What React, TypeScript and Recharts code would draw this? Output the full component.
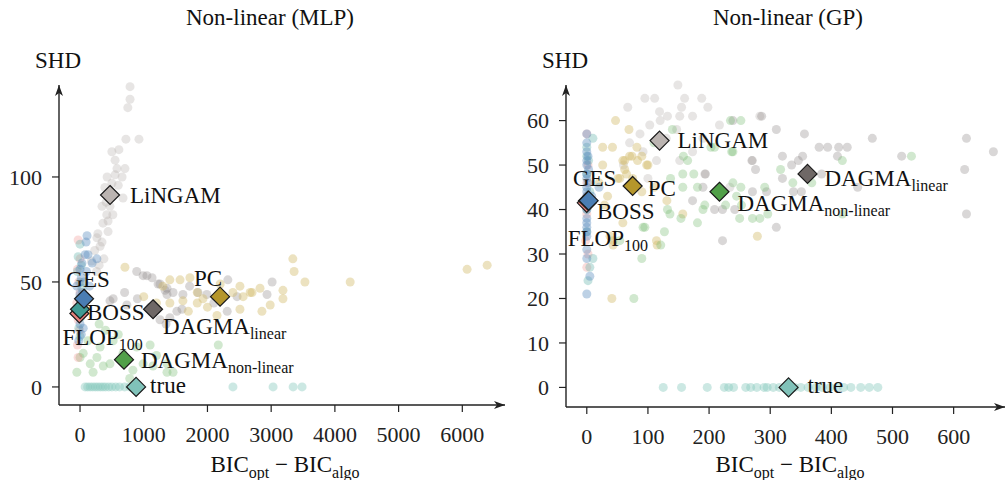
import React from "react";
import { ScatterChart, Scatter, XAxis, YAxis } from "recharts";

type Pt = [number, number];

const FONT = "'Liberation Serif', 'Times New Roman', serif";
const INK = "#222";

// ---------- Non-linear (MLP) ----------
const mlpXTicks = [0, 1000, 2000, 3000, 4000, 5000, 6000];
const mlpYTicks = [0, 50, 100];

const mlpLingam: Pt[] = [
  [785, 143], [785, 137], [750, 133], [720, 118], [925, 118], [500, 112], [610, 113],
  [550, 108], [705, 104], [425, 100], [550, 101], [660, 100], [500, 97], [675, 90],
  [345, 86], [470, 86], [420, 82], [515, 82], [440, 79], [440, 74], [280, 73],
  [265, 71], [345, 69], [315, 67], [375, 61], [390, 95], [600, 96], [455, 92],
  [360, 78], [230, 65], [180, 60], [410, 88], [580, 104], [300, 58], [260, 55],
];
const mlpDagmaLin: Pt[] = [
  [890, 55], [990, 53], [700, 45], [470, 41], [735, 39], [1130, 52], [1225, 49],
  [1335, 46], [1365, 44], [1460, 45], [1615, 44], [1850, 45], [1990, 44], [2320, 51],
  [2465, 43], [2310, 36], [2935, 44], [3015, 50], [1255, 32], [1410, 33], [1520, 36],
  [1050, 53], [1255, 49], [1365, 47], [1350, 30], [1600, 37], [1720, 48], [2100, 40],
  [900, 42], [1100, 38], [520, 42],
];
const mlpPc: Pt[] = [
  [705, 57], [1410, 51], [1570, 51], [1725, 52], [1615, 41], [1410, 40], [1840, 40],
  [1930, 42], [2400, 45], [2510, 48], [2670, 45], [2825, 47], [2855, 36], [2985, 39],
  [3185, 46], [3185, 42], [3340, 61], [3360, 55], [3530, 50], [4240, 50], [2150, 34],
  [2510, 37], [2700, 45], [2560, 43], [6075, 56], [6390, 58], [1840, 45], [1000, 43],
  [1200, 40], [1300, 48], [2200, 49], [2000, 38], [1700, 36],
];
const mlpDagmaNon: Pt[] = [
  [125, 22], [315, 19], [50, 16], [265, 14], [160, 11], [365, 10], [205, 7], [520, 22],
  [675, 16], [890, 19], [990, 11], [1100, 20], [1145, 10], [1365, 11], [1365, 7],
  [1460, 7], [830, 8], [2170, 20], [-50, 7], [0, 14], [470, 11], [600, 25], [400, 27],
  [780, 4], [1200, 15], [300, 30],
];
const mlpTrue: Pt[] = [
  [80, 0], [120, 0], [160, 0], [200, 0], [240, 0], [280, 0], [320, 0], [360, 0],
  [400, 0], [450, 0], [500, 0], [560, 0], [620, 0], [700, 0], [780, 0], [860, 0],
  [2400, 0], [3030, 0], [3345, 0], [3485, 0],
];
const mlpGes: Pt[] = [
  [110, 72], [95, 69], [125, 63], [265, 61], [30, 59], [80, 63], [190, 59], [0, 56],
  [-50, 48], [20, 52], [40, 45], [10, 40], [30, 35], [0, 30], [20, 25], [-20, 22],
  [60, 50], [100, 55], [150, 48], [0, 44], [-30, 38], [50, 28],
];
const mlpBoss: Pt[] = [
  [0, 68], [-30, 62], [20, 58], [0, 50], [30, 47], [-10, 42], [10, 33], [-20, 28],
  [0, 24], [40, 40], [-40, 55],
];
const mlpFlop: Pt[] = [
  [-30, 70], [0, 61], [-40, 56], [-20, 50], [0, 45], [-50, 40], [-30, 32], [-10, 27],
  [-40, 20], [-30, 14], [10, 36],
];
const mlpMeans = [
  { id: "flop", x: -10, y: 35 },
  { id: "boss", x: 0, y: 37 },
  { id: "ges", x: 63, y: 42 },
  { id: "lingam", x: 471, y: 91.4 },
  { id: "dagmaLin", x: 1146, y: 37 },
  { id: "pc", x: 2198, y: 43 },
  { id: "dagmaNon", x: 690, y: 13 },
  { id: "true", x: 880, y: 0 },
];

// ---------- Non-linear (GP) ----------
const gpXTicks = [0, 100, 200, 300, 400, 500, 600];
const gpYTicks = [0, 10, 20, 30, 40, 50, 60];

const gpLingam: Pt[] = [
  [149, 68], [111, 65], [95, 65], [160, 65], [188, 65], [67, 63], [155, 63], [119, 62],
  [198, 63], [132, 61], [152, 61], [173, 61], [217, 59], [147, 58], [103, 59], [87, 57],
  [190, 56], [70, 55], [92, 53], [173, 53], [114, 51], [152, 51], [193, 48], [271, 51],
  [283, 61], [234, 45], [130, 56], [100, 47], [120, 60], [60, 50],
];
const gpDagmaLin: Pt[] = [
  [286, 61], [310, 58], [356, 57], [467, 56], [621, 56], [665, 53], [394, 54], [412, 54],
  [426, 54], [515, 52], [410, 52], [335, 50], [346, 51], [353, 52], [384, 48], [320, 47],
  [338, 44], [351, 44], [443, 45], [618, 49], [621, 39], [310, 36], [294, 44], [239, 60],
  [270, 51], [276, 49], [194, 48], [190, 45], [209, 40], [222, 40], [242, 40], [271, 44],
  [222, 33], [173, 42], [380, 54], [320, 52],
];
const gpPc: Pt[] = [
  [47, 60], [69, 58], [42, 54], [70, 52], [62, 51], [83, 51], [100, 50], [62, 49],
  [51, 47], [75, 47], [26, 54], [82, 54], [74, 52], [90, 52], [59, 51], [98, 50],
  [26, 50], [54, 47], [65, 48], [34, 43], [29, 41], [59, 37], [38, 34], [43, 33],
  [114, 33], [131, 42], [157, 39], [279, 34], [43, 32], [115, 32], [41, 20], [90, 44],
  [110, 45], [20, 46],
];
const gpDagmaNon: Pt[] = [
  [252, 60], [235, 60], [239, 53], [203, 54], [158, 52], [165, 51], [157, 48], [175, 48],
  [137, 47], [157, 45], [181, 45], [190, 40], [132, 40], [154, 38], [227, 41], [250, 38],
  [271, 38], [95, 36], [121, 32], [252, 45], [209, 54], [237, 53], [239, 46], [245, 43],
  [193, 41], [136, 39], [181, 37], [92, 36], [127, 35], [90, 29], [54, 33], [77, 20],
  [317, 49], [418, 51], [531, 52], [337, 46], [368, 46], [418, 39], [296, 39], [291, 45],
  [253, 41], [283, 38], [110, 55], [140, 58],
];
const gpTrue: Pt[] = [
  [125, 0], [155, 0], [197, 0], [225, 0], [232, 0], [240, 0], [260, 0], [268, 0],
  [278, 0], [290, 0], [295, 0], [305, 0], [315, 0], [325, 0], [340, 0], [350, 0],
  [362, 0], [375, 0], [385, 0], [398, 0], [410, 0], [420, 0], [432, 0], [448, 0],
  [462, 0], [476, 0],
];
const gpGes: Pt[] = [
  [0, 57], [0, 55], [0, 53], [2, 52], [0, 51], [0, 50], [3, 49], [0, 48], [0, 47],
  [2, 46], [0, 45], [0, 44], [0, 43], [0, 42], [0, 41], [0, 40], [0, 38], [0, 37],
  [0, 36], [0, 35], [0, 34], [0, 31], [0, 29], [5, 25], [0, 21], [20, 45], [8, 43],
];
const gpBoss: Pt[] = [
  [10, 56], [0, 54], [3, 51], [0, 48], [5, 44], [0, 40], [10, 29], [5, 27], [2, 24],
  [0, 35], [0, 52],
];
const gpFlop: Pt[] = [
  [0, 57], [2, 50], [0, 46], [0, 39], [-2, 33], [0, 27], [2, 30], [0, 43],
];
const gpMeans = [
  { id: "flop", x: 0, y: 41.5 },
  { id: "boss", x: 2, y: 42 },
  { id: "ges", x: 3, y: 42 },
  { id: "lingam", x: 119, y: 55.5 },
  { id: "pc", x: 75, y: 45.3 },
  { id: "dagmaNon", x: 217, y: 44 },
  { id: "dagmaLin", x: 361, y: 48 },
  { id: "true", x: 330, y: 0 },
];

// ---------- styles ----------
const COLORS: Record<string, { mean: string; cloud: string; op: number }> = {
  flop: { mean: "#e9807b", cloud: "#f08a88", op: 0.3 },
  boss: { mean: "#3f9a93", cloud: "#5bb0a6", op: 0.35 },
  ges: { mean: "#4a7db3", cloud: "#5a8dbf", op: 0.4 },
  lingam: { mean: "#bbb4b1", cloud: "#b5adaa", op: 0.32 },
  dagmaLin: { mean: "#6f6866", cloud: "#8a8482", op: 0.32 },
  pc: { mean: "#b5962b", cloud: "#d1bb6a", op: 0.42 },
  dagmaNon: { mean: "#51a049", cloud: "#74b86c", op: 0.33 },
  true: { mean: "#80c2b9", cloud: "#86c7bd", op: 0.42 },
};

const LABELS: Record<string, [string, string?]> = {
  flop: ["FLOP", "100"],
  boss: ["BOSS"],
  ges: ["GES"],
  lingam: ["LiNGAM"],
  dagmaLin: ["DAGMA", "linear"],
  pc: ["PC"],
  dagmaNon: ["DAGMA", "non-linear"],
  true: ["true"],
};

type Place = { dx: number; dy: number; anchor: "start" | "middle" | "end" };
const mlpPlace: Record<string, Place> = {
  lingam: { dx: 20, dy: 8, anchor: "start" },
  ges: { dx: 4, dy: -12, anchor: "middle" },
  boss: { dx: 7, dy: 11, anchor: "start" },
  flop: { dx: -17, dy: 32, anchor: "start" },
  dagmaLin: { dx: 10, dy: 25, anchor: "start" },
  pc: { dx: -12, dy: -11, anchor: "middle" },
  dagmaNon: { dx: 17, dy: 8, anchor: "start" },
  true: { dx: 14, dy: 6, anchor: "start" },
};
const gpPlace: Record<string, Place> = {
  lingam: { dx: 18, dy: 7, anchor: "start" },
  ges: { dx: 6, dy: -15, anchor: "middle" },
  boss: { dx: 9, dy: 18, anchor: "start" },
  flop: { dx: -19, dy: 43, anchor: "start" },
  pc: { dx: 15, dy: 10, anchor: "start" },
  dagmaNon: { dx: 18, dy: 19, anchor: "start" },
  dagmaLin: { dx: 17, dy: 12, anchor: "start" },
  true: { dx: 19, dy: 6, anchor: "start" },
};

const toXY = (pts: Pt[]) => pts.map(([x, y]) => ({ x, y }));

function Dot(color: string, op: number) {
  return (p: any) => <circle cx={p.cx} cy={p.cy} r={4.5} fill={color} fillOpacity={op} />;
}

function Mean(place: Record<string, Place>) {
  return (p: any) => {
    const id = p.payload.id;
    const c = COLORS[id];
    const pl = place[id];
    const [main, sub] = LABELS[id];
    const r = 9.5;
    const { cx, cy } = p;
    return (
      <g>
        <polygon
          points={`${cx},${cy - r} ${cx + r},${cy} ${cx},${cy + r} ${cx - r},${cy}`}
          fill={c.mean}
          stroke="#1a1a1a"
          strokeWidth={1.2}
        />
        <text
          x={cx + pl.dx}
          y={cy + pl.dy}
          textAnchor={pl.anchor}
          fontFamily={FONT}
          fontSize={23}
          fill="#111"
        >
          <tspan>{main}</tspan>
          {sub && (
            <tspan fontSize={16} dy={5}>
              {sub}
            </tspan>
          )}
        </text>
      </g>
    );
  };
}

const tickStyle = { fontFamily: FONT, fontSize: 22, fill: INK };
const axisLineX = (id: string) => ({ stroke: INK, strokeWidth: 1.4, markerEnd: `url(#${id})` });
const axisLineY = (id: string) => ({ stroke: INK, strokeWidth: 1.4, markerStart: `url(#${id})` });

function Panel(props: {
  width: number;
  margin: { top: number; right: number; bottom: number; left: number };
  xDomain: [number, number];
  yDomain: [number, number];
  xTicks: number[];
  yTicks: number[];
  clouds: { id: string; pts: Pt[] }[];
  means: { id: string; x: number; y: number }[];
  place: Record<string, Place>;
}) {
  return (
    <ScatterChart width={props.width} height={480} margin={props.margin}>
      <XAxis
        type="number"
        dataKey="x"
        domain={props.xDomain}
        ticks={props.xTicks}
        height={30}
        tick={tickStyle}
        tickSize={7}
        tickMargin={14}
        tickLine={{ stroke: INK, strokeWidth: 1.2 }}
        axisLine={axisLineX("arrowHead")}
      />
      <YAxis
        type="number"
        dataKey="y"
        domain={props.yDomain}
        ticks={props.yTicks}
        width={50}
        tick={tickStyle}
        tickSize={7}
        tickMargin={10}
        tickLine={{ stroke: INK, strokeWidth: 1.2 }}
        axisLine={axisLineY("arrowHead")}
      />
      {props.clouds.map((c) => (
        <Scatter
          key={c.id}
          data={toXY(c.pts)}
          shape={Dot(COLORS[c.id].cloud, COLORS[c.id].op)}
          isAnimationActive={false}
        />
      ))}
      <Scatter data={props.means} shape={Mean(props.place)} isAnimationActive={false} />
    </ScatterChart>
  );
}

const textBase: React.CSSProperties = {
  position: "absolute",
  fontFamily: FONT,
  fontSize: 23,
  lineHeight: "23px",
  color: "#111",
  textAlign: "center",
  whiteSpace: "nowrap",
};

function XLabel({ center }: { center: number }) {
  return (
    <div style={{ ...textBase, left: center - 150, width: 300, top: 453 }}>
      BIC<sub style={{ fontSize: 16 }}>opt</sub> − BIC<sub style={{ fontSize: 16 }}>algo</sub>
    </div>
  );
}

export default function App() {
  return (
    <div style={{ position: "absolute", left: 0, top: 0, width: 1008, height: 480, background: "#fff" }}>
      <svg width={0} height={0} style={{ position: "absolute" }}>
        <defs>
          <marker
            id="arrowHead"
            viewBox="0 0 11 8"
            refX={11}
            refY={4}
            markerWidth={11}
            markerHeight={8}
            markerUnits="userSpaceOnUse"
            orient="auto-start-reverse"
          >
            <path d="M0,0 L11,4 L0,8 L3,4 Z" fill={INK} />
          </marker>
        </defs>
      </svg>

      <div style={{ position: "absolute", left: 0, top: 0 }}>
        <Panel
          width={515}
          margin={{ top: 85, right: 10, bottom: 45, left: 9 }}
          xDomain={[-330, 6670]}
          yDomain={[-8.6, 143.8]}
          xTicks={mlpXTicks}
          yTicks={mlpYTicks}
          clouds={[
            { id: "lingam", pts: mlpLingam },
            { id: "dagmaLin", pts: mlpDagmaLin },
            { id: "pc", pts: mlpPc },
            { id: "dagmaNon", pts: mlpDagmaNon },
            { id: "true", pts: mlpTrue },
            { id: "flop", pts: mlpFlop },
            { id: "boss", pts: mlpBoss },
            { id: "ges", pts: mlpGes },
          ]}
          means={mlpMeans}
          place={mlpPlace}
        />
      </div>
      <div style={{ position: "absolute", left: 510, top: 0 }}>
        <Panel
          width={498}
          margin={{ top: 85, right: 3, bottom: 43, left: 6 }}
          xDomain={[-34, 684]}
          yDomain={[-4.4, 66.8]}
          xTicks={gpXTicks}
          yTicks={gpYTicks}
          clouds={[
            { id: "lingam", pts: gpLingam },
            { id: "dagmaLin", pts: gpDagmaLin },
            { id: "pc", pts: gpPc },
            { id: "dagmaNon", pts: gpDagmaNon },
            { id: "true", pts: gpTrue },
            { id: "flop", pts: gpFlop },
            { id: "boss", pts: gpBoss },
            { id: "ges", pts: gpGes },
          ]}
          means={gpMeans}
          place={gpPlace}
        />
      </div>

      <div style={{ ...textBase, left: 120, width: 300, top: 6 }}>Non-linear (MLP)</div>
      <div style={{ ...textBase, left: 638, width: 300, top: 6 }}>Non-linear (GP)</div>
      <div style={{ ...textBase, left: 18, width: 80, top: 49 }}>SHD</div>
      <div style={{ ...textBase, left: 525, width: 80, top: 49 }}>SHD</div>
      <XLabel center={285} />
      <XLabel center={790} />
    </div>
  );
}
